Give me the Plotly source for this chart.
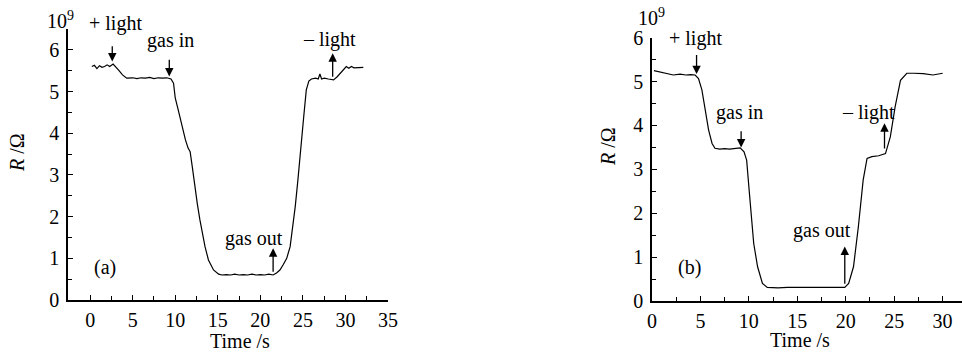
import plotly.graph_objects as go

# ---- data ----
ta = [0.2, 0.5, 0.8, 1.1, 1.4, 1.7, 2.0, 2.3, 2.7, 3.0, 3.4, 3.8, 4.3, 5.0, 5.5, 6.0, 6.5, 7.0, 7.5, 8.0,
      8.5, 9.0, 9.5, 9.8, 10.0, 10.3, 10.6, 10.9, 11.2, 11.5, 11.75, 12.0, 12.3, 12.6, 12.9, 13.2, 13.5, 13.9,
      14.2, 14.5, 15.1, 15.5, 16, 16.5, 17, 17.5, 18, 18.5, 19, 19.5, 20, 20.5, 21, 21.5, 21.9, 22.3, 22.7,
      23.1, 23.5, 23.8, 24.1, 24.4, 24.7, 25.1, 25.4, 25.7, 26.0, 26.5, 26.8, 27.0, 27.2, 27.5, 28, 28.6,
      29.0, 29.4, 29.8, 30.1, 30.4, 30.7, 31, 31.5, 32.1]
Ra = [5.6, 5.63, 5.55, 5.62, 5.58, 5.6, 5.64, 5.6, 5.66, 5.6, 5.5, 5.4, 5.32, 5.33, 5.31, 5.33, 5.32, 5.34, 5.31, 5.33,
      5.32, 5.33, 5.3, 5.2, 4.85, 4.6, 4.32, 4.1, 3.84, 3.65, 3.56, 3.2, 2.72, 2.3, 1.92, 1.55, 1.28, 0.96,
      0.82, 0.72, 0.62, 0.6, 0.61, 0.6, 0.62, 0.6, 0.61, 0.6, 0.62, 0.6, 0.61, 0.6, 0.62, 0.6, 0.65, 0.72, 0.85,
      1.0, 1.28, 1.7, 2.24, 2.85, 3.44, 4.4, 5.04, 5.25, 5.3, 5.32, 5.3, 5.42, 5.3, 5.32, 5.3, 5.28,
      5.35, 5.44, 5.52, 5.6, 5.56, 5.6, 5.57, 5.58, 5.58]

tb = [0.2, 0.8, 1.5, 2.2, 2.9, 3.5, 4.0, 4.45, 4.8, 5.15, 5.5, 5.84, 6.2, 6.5, 7, 7.5, 8, 8.5, 9.1, 9.5,
      9.77, 10.0, 10.25, 10.5, 10.9, 11.4, 11.9, 13, 14, 15, 16, 17, 18, 19, 19.9, 20.3, 20.8, 21.3, 21.8, 22.2,
      22.7, 23.4, 24.1, 24.6, 25.1, 25.65, 26.3, 27, 28, 29, 30]
Rb = [5.25, 5.22, 5.2, 5.15, 5.17, 5.15, 5.16, 5.15, 5.07, 4.81, 4.35, 3.9, 3.59, 3.48, 3.46, 3.47, 3.46, 3.48, 3.49, 3.4,
      3.21, 2.6, 1.92, 1.31, 0.78, 0.4, 0.31, 0.3, 0.31, 0.31, 0.32, 0.32, 0.31, 0.31, 0.31, 0.40, 0.78, 1.69, 2.76, 3.25,
      3.29, 3.31, 3.36, 3.74, 4.43, 5.03, 5.19, 5.19, 5.18, 5.15, 5.19]

x_ticks_a = [0, 5, 10, 15, 20, 25, 30, 35]
x_ticks_b = [0, 5, 10, 15, 20, 25, 30]
y_ticks = [0, 1, 2, 3, 4, 5, 6]

# arrows: (x, tail y, head y) in data units
arrows_a = [(2.6, 6.12, 5.72), (9.3, 5.80, 5.36), (21.5, 0.64, 1.24), (28.5, 5.32, 5.92)]
arrows_b = [(4.6, 5.64, 5.17), (9.2, 3.90, 3.50), (19.9, 0.36, 1.24), (24.0, 3.44, 4.05)]
# labels: (text, x, y) in data units
labels_a = [("+ light", 3.0, 6.64), ("gas in", 9.4, 6.22), ("gas out", 19.2, 1.48), ("– light", 28.1, 6.24),
            ("(a)", 1.76, 0.78)]
labels_b = [("+ light", 4.45, 5.98), ("gas in", 9.07, 4.29), ("gas out", 17.55, 1.6), ("– light", 22.35, 4.29),
            ("(b)", 3.86, 0.76)]

FONT = "Liberation Serif"
FS = 20

W, H = 962, 352
# plot-area boxes in pixels: (left, right, top, bottom)
box_a = (68, 388, 29, 300)
box_b = (652, 962, 37.7, 301)
range_a = ((-2.6, 35), (0, 6.5))
range_b = ((0, 32), (0, 6))

fig = go.Figure()
fig.add_trace(go.Scatter(x=ta, y=Ra, mode="lines", line=dict(color="black", width=1.2),
                         xaxis="x", yaxis="y", showlegend=False))
fig.add_trace(go.Scatter(x=tb, y=Rb, mode="lines", line=dict(color="black", width=1.2),
                         xaxis="x2", yaxis="y2", showlegend=False))

axis_common = dict(showline=True, linecolor="black", linewidth=1.5, showgrid=False, zeroline=False,
                   ticks="inside", ticklen=5, tickwidth=1.3, tickcolor="black", automargin=False,
                   tickfont=dict(family=FONT, size=FS, color="black"))

def xdom(b):
    return [b[0] / W, b[1] / W]

def ydom(b):
    return [(H - b[3]) / H, (H - b[2]) / H]

fig.update_layout(
    width=W, height=H, margin=dict(l=0, r=0, t=0, b=0, autoexpand=False),
    paper_bgcolor="white", plot_bgcolor="white",
    font=dict(family=FONT, size=FS, color="black"),
    xaxis=dict(domain=xdom(box_a), range=list(range_a[0]), tickvals=x_ticks_a,
               minor=dict(ticks="inside", dtick=2.5, tick0=0, ticklen=4, tickcolor="black"),
               anchor="y", ticklabelstandoff=1, **axis_common),
    yaxis=dict(domain=ydom(box_a), range=list(range_a[1]), tickvals=y_ticks,
               minor=dict(ticks="inside", dtick=0.5, tick0=0, ticklen=4, tickcolor="black"),
               anchor="x", ticklabelstandoff=3, **axis_common),
    xaxis2=dict(domain=xdom(box_b), range=list(range_b[0]), tickvals=x_ticks_b,
                minor=dict(ticks="inside", dtick=2.5, tick0=0, ticklen=4, tickcolor="black"),
                anchor="y2", ticklabelstandoff=1, **axis_common),
    yaxis2=dict(domain=ydom(box_b), range=list(range_b[1]), tickvals=y_ticks,
                minor=dict(ticks="inside", dtick=0.5, tick0=0, ticklen=4, tickcolor="black"),
                anchor="x2", ticklabelstandoff=3, **axis_common),
)

def to_paper(box, rng, x, y):
    (x0, x1), (y0, y1) = rng
    px = box[0] + (x - x0) / (x1 - x0) * (box[1] - box[0])
    py = box[3] - (y - y0) / (y1 - y0) * (box[3] - box[2])
    return px / W, (H - py) / H

def text_at(px, py, text, angle=0):
    fig.add_annotation(x=px, y=py, xref="paper", yref="paper", text=text, showarrow=False,
                       xanchor="center", yanchor="middle", textangle=angle,
                       font=dict(family=FONT, size=FS, color="black"))

def add_panel(arrows, labels, xr, yr, box, rng):
    for axx, tail, head in arrows:
        fig.add_annotation(x=axx, y=head, ax=axx, ay=tail, xref=xr, yref=yr, axref=xr, ayref=yr,
                           text="", showarrow=True, arrowhead=2, arrowsize=1.3, arrowwidth=1.3,
                           arrowcolor="black")
    for text, lx, ly in labels:
        px, py = to_paper(box, rng, lx, ly)
        text_at(px, py, text)

add_panel(arrows_a, labels_a, "x", "y", box_a, range_a)
add_panel(arrows_b, labels_b, "x2", "y2", box_b, range_b)

# axis titles & exponent labels (pixel centres)
for x, y in [(240, 341), (800, 340)]:
    text_at(x / W, (H - y) / H, "Time /s")
for x, y in [(17, 153), (608, 147)]:
    text_at(x / W, (H - y) / H, "<i>R</i> /Ω", angle=-90)
for x, y in [(60, 20), (651, 17)]:
    text_at(x / W, (H - y) / H, "10<sup>9</sup>")

fig.write_html("out.html", config={"displayModeBar": False},
               post_script="document.body.style.margin='0px';")
